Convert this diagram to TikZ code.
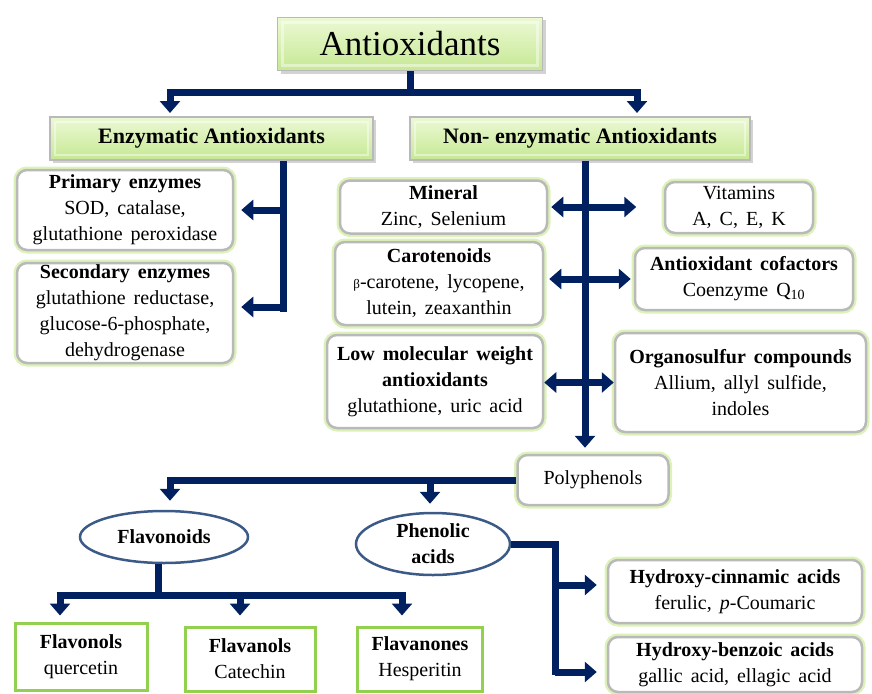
\documentclass[tikz,border=0pt]{standalone}
\usepackage{fontspec}
\setmainfont{Liberation Serif}
\usetikzlibrary{arrows.meta,shadows,shapes.geometric}
\definecolor{navy}{RGB}{0,32,96}
\definecolor{hgtop}{RGB}{236,249,212}
\definecolor{hgbot}{RGB}{198,232,148}
\definecolor{glow}{RGB}{220,242,184}
\definecolor{bgray}{RGB}{185,185,185}
\definecolor{lgreen}{RGB}{146,208,80}
\definecolor{ellc}{RGB}{60,90,135}
\newcommand{\bodyfont}{\fontsize{20}{26}\selectfont\spaceskip=0.4em plus 0.1em}
\begin{document}
\begin{tikzpicture}[x=1pt,y=-1pt,
 hbox/.style={rectangle, top color=hgtop, bottom color=hgbot, draw=bgray, line width=1.5pt,
   drop shadow={shadow xshift=3pt,shadow yshift=-3pt,fill=black!35},
   path picture={\draw[white,opacity=0.45,line width=2.5pt]
     ([shift={(5pt,-5pt)}]path picture bounding box.north west) rectangle
     ([shift={(-5pt,5pt)}]path picture bounding box.south east);},
   inner sep=0pt, font=\bfseries\fontsize{22}{26}\selectfont},
 rbox/.style={rectangle, rounded corners=10pt, fill=white, draw=bgray, line width=2.5pt,
   preaction={draw=glow, line width=7pt}, inner sep=0pt, align=center,
   font=\bodyfont},
 gbox/.style={rectangle, draw=lgreen, line width=3pt, fill=white, inner sep=0pt, align=center,
   font=\bodyfont},
 ebox/.style={ellipse, draw=ellc, line width=2.5pt, fill=white,
   inner sep=0pt, align=center, font=\bfseries\bodyfont},
 conn/.style={draw=navy, line width=7pt},
 arr/.style={conn, -{Triangle[width=20pt,length=12pt]}},
 darr/.style={conn, {Triangle[width=20pt,length=12pt]}-{Triangle[width=20pt,length=12pt]}},
]
\useasboundingbox (0,0) rectangle (872,693);

% header boxes
\node[hbox, minimum width=265pt, minimum height=53pt, font=\fontsize{35}{40}\selectfont] (anti) at (410,44) {Antioxidants};
\node[hbox, minimum width=323pt, minimum height=43pt] (enz) at (211.5,138.5) {Enzymatic Antioxidants};
\node[hbox, minimum width=340pt, minimum height=43pt] (nenz) at (580,138.5) {Non- enzymatic Antioxidants};

% enzymatic
\node[rbox, minimum width=216pt, minimum height=80pt] (prim) at (125,210) {\textbf{Primary enzymes}\\SOD, catalase,\\glutathione peroxidase};
\node[rbox, minimum width=216pt, minimum height=100pt] (sec) at (125,313) {\textbf{Secondary enzymes}\\glutathione reductase,\\glucose-6-phosphate,\\dehydrogenase};

% non-enzymatic, left column
\node[rbox, minimum width=207pt, minimum height=53pt] (min) at (443.5,207) {\textbf{Mineral}\\Zinc, Selenium};
\node[rbox, minimum width=208pt, minimum height=83pt] (car) at (439,283.5) {\textbf{Carotenoids}\\{\fontsize{13}{13}\selectfont β}-carotene, lycopene,\\lutein, zeaxanthin};
\node[rbox, minimum width=216pt, minimum height=93pt] (low) at (435,381.5) {\textbf{Low molecular weight}\\\textbf{antioxidants}\\glutathione, uric acid};

% non-enzymatic, right column
\node[rbox, minimum width=148pt, minimum height=51pt] (vit) at (739,207.5) {Vitamins\\A, C, E, K};
\node[rbox, minimum width=218pt, minimum height=62pt] (cof) at (744,279) {\textbf{Antioxidant cofactors}\\Coenzyme Q\textsubscript{10}};
\node[rbox, minimum width=251pt, minimum height=99pt] (org) at (740.5,382.5) {\textbf{Organosulfur compounds}\\Allium, allyl sulfide,\\indoles};

% polyphenols
\node[rbox, minimum width=151pt, minimum height=50pt] (poly) at (593,480) {Polyphenols};
\node[ebox, minimum width=168pt, minimum height=52pt] (flav) at (164,537) {Flavonoids};
\node[ebox, minimum width=154pt, minimum height=62pt] (phen) at (433,544) {Phenolic\\acids};

\node[gbox, minimum width=132pt, minimum height=67pt] (fl1) at (81,656.5) {\textbf{Flavonols}\\quercetin};
\node[gbox, minimum width=130pt, minimum height=64pt] (fl2) at (250,659) {\textbf{Flavanols}\\Catechin};
\node[gbox, minimum width=125pt, minimum height=64pt] (fl3) at (420,659) {\textbf{Flavanones}\\Hesperitin};

\node[rbox, minimum width=254pt, minimum height=63pt] (hc) at (735,591.5) {\textbf{Hydroxy-cinnamic acids}\\ferulic, \textit{p}-Coumaric};
\node[rbox, minimum width=254pt, minimum height=55pt] (hb) at (735,664.5) {\textbf{Hydroxy-benzoic acids}\\gallic acid, ellagic acid};

% top connector
\coordinate (j0) at (410,92);
\coordinate (tA) at (170,113);
\coordinate (tB) at (637,113);
\draw[conn] (anti.south) -- (j0);
\draw[arr] (j0) -| (tA);
\draw[arr] (j0) -| (tB);

% enzymatic connector
\coordinate (ex) at (283,312);
\coordinate (sy) at (283,307);
\draw[conn] (enz.south -| ex) -- (ex);
\draw[arr] (ex |- prim.east) -- ([xshift=7pt]prim.east);
\draw[arr] (sy) -- ([xshift=7pt]sec.east |- sy);

% non-enzymatic trunk
\coordinate (tr) at (585,0);
\draw[arr] (nenz.south -| tr) -- ([yshift=6pt]poly.north -| tr);
\draw[darr] ([xshift=3pt]min.east) -- ([xshift=88pt]min.east);
\draw[darr] ([xshift=5pt]car.east |- cof.west) -- ([xshift=-3pt]cof.west);
\draw[darr] (low.east |- org.west) -- (org.west);

% polyphenols branch
\coordinate (p1) at (170,480);
\coordinate (p2) at (430,480);
\draw[conn] (poly.west) -- ([xshift=-3.5pt]p1);
\draw[arr] (p1) -- ([yshift=9pt]flav.north -| p1);
\draw[arr] (p2) -- ([yshift=8pt]phen.north -| p2);

% flavonoids branch
\coordinate (fj) at (158,595);
\coordinate (f1) at (60,595);
\coordinate (f2) at (240,595);
\coordinate (f3) at (402,595);
\draw[conn] (flav.south -| fj) -- (fj);
\draw[conn] ([xshift=-3.5pt]f1) -- ([xshift=3.5pt]f3);
\draw[arr] (f1) -- ([yshift=6pt]fl1.north -| f1);
\draw[arr] (f2) -- ([yshift=10pt]fl2.north -| f2);
\draw[arr] (f3) -- ([yshift=10pt]fl3.north -| f3);

% phenolic acids branch
\coordinate (pj) at (555,544);
\coordinate (pb) at (555,675);
\coordinate (pc) at (555,585);
\coordinate (pd) at (555,672);
\draw[conn] (phen.east) -- (pj) -- (pb);
\draw[arr] (pc) -- ([xshift=-10pt]hc.west |- pc);
\draw[arr] (pd) -- ([xshift=-10pt]hb.west |- pd);
\end{tikzpicture}
\end{document}
